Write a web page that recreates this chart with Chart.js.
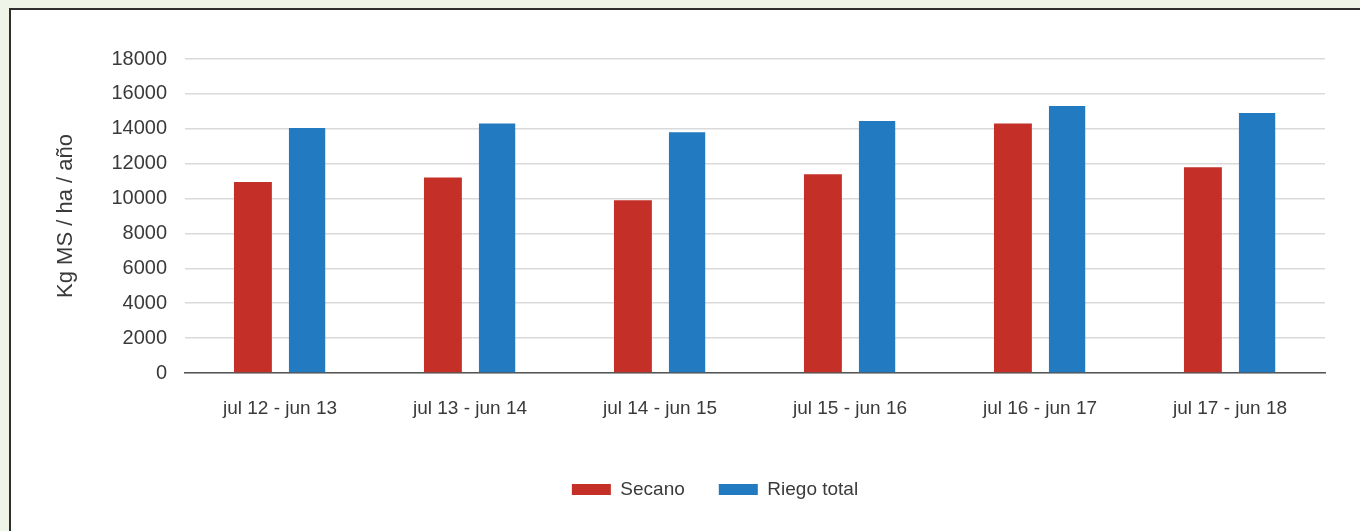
<!DOCTYPE html>
<html>
<head>
<meta charset="utf-8">
<script src="https://cdn.jsdelivr.net/npm/chart.js@4"></script>
<style>
  html, body { margin: 0; padding: 0; background: #eff4e8; overflow: hidden; }
  #box { position: absolute; left: 9px; top: 8px; width: 1400px; height: 600px;
         background: #fff; border: 2px solid #2e2e2e; }
  #wrap { position: absolute; left: 0; top: 0; width: 1360px; height: 531px; }
</style>
</head>
<body>
<div id="box"></div>
<div id="wrap"><canvas id="chart"></canvas></div>
<script>
var periods = ["jul 12 - jun 13", "jul 13 - jun 14", "jul 14 - jun 15", "jul 15 - jun 16", "jul 16 - jun 17", "jul 17 - jun 18"];
var secano = [10950, 11200, 9900, 11400, 14300, 11800];
var riegoTotal = [14050, 14300, 13800, 14450, 15300, 14900];

Chart.defaults.font.family = "'Liberation Sans', Arial, sans-serif";
Chart.defaults.font.size = 19;
Chart.defaults.color = "#3a3a3a";

var ctx = document.getElementById("chart");
var myChart = new Chart(ctx, {
    type: "bar",
    data: {
        labels: periods,
        datasets: [
            {
                label: "Secano",
                data: secano,
                backgroundColor: "rgb(196, 48, 39)",
                categoryPercentage: 0.57,
                barPercentage: 0.7,
            },
            {
                label: "Riego total",
                data: riegoTotal,
                backgroundColor: "rgb(34, 122, 192)",
                categoryPercentage: 0.57,
                barPercentage: 0.67,
            },
        ],
    },
    options: {
        responsive: true,
        maintainAspectRatio: false,
        animation: false,
        layout: {
            padding: { left: 105, right: 35, top: 59, bottom: 22 },
        },
        plugins: {
            legend: {
                position: "bottom",
                labels: {
                    boxWidth: 39,
                    boxHeight: 11,
                    padding: 34,
                    font: { size: 19 },
                },
            },
            tooltip: { enabled: false },
        },
        scales: {
            x: {
                grid: { display: false, drawTicks: false },
                border: { display: true, color: "#555", width: 1.5 },
                ticks: { padding: 24, font: { size: 19 } },
                afterFit: function (scale) { scale.height = 73; },
            },
            y: {
                min: 0,
                max: 18000,
                ticks: {
                    stepSize: 2000,
                    padding: 18,
                    font: { size: 20 },
                    callback: function (v) { return String(v); },
                },
                grid: { color: "#dadada", lineWidth: 1.5, drawTicks: false },
                border: { display: false },
                title: {
                    display: true,
                    text: "Kg MS / ha / año",
                    font: { size: 22 },
                    padding: { top: -52, bottom: 0 },
                },
                afterFit: function (scale) { scale.width = 80; },
            },
        },
    },
});
</script>
</body>
</html>
